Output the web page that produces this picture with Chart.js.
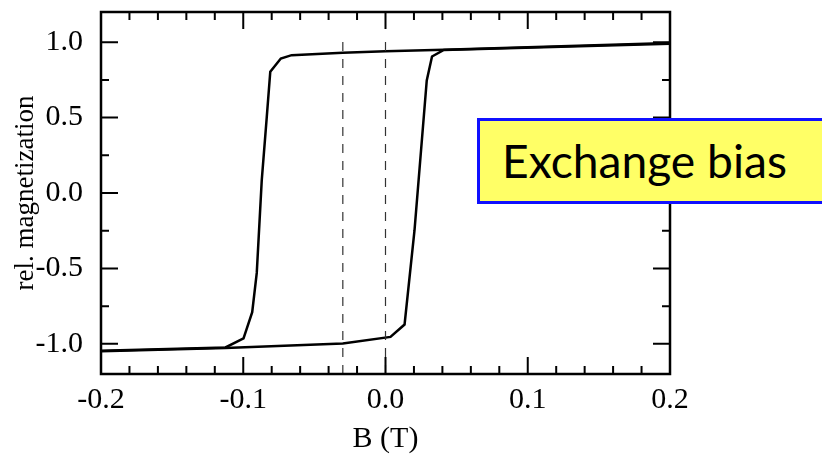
<!DOCTYPE html>
<html lang="en">
<head>
    <meta charset="UTF-8">
    <title>Exchange bias loop</title>
    <script src="https://cdn.jsdelivr.net/npm/chart.js"></script>
    <style>
        body {
            margin: 0;
            background: #fff;
            overflow: hidden;
        }
        .wrap {
            position: relative;
            width: 822px;
            height: 457px;
        }
        .note {
            position: absolute;
            left: 477px;
            top: 118px;
            width: 360px;
            height: 86px;
            box-sizing: border-box;
            border: 3px solid #1010ff;
            background: #ffff66;
        }
        .note span {
            position: absolute;
            left: 22px;
            top: 50%;
            transform-origin: left center;
            font-family: 'Lato', sans-serif;
            line-height: 1;
            color: #000;
            white-space: nowrap;
        }
    </style>
</head>
<body>
    <div class="wrap">
        <canvas id="loopChart" width="822" height="457"></canvas>
        <div class="note"><span id="noteText">Exchange bias</span></div>
    </div>

    <script>
        // field sweep from +0.2 T down to -0.2 T
        const fieldDown = [0.2, 0.041, 0.0, -0.03, -0.066, -0.0736, -0.081, -0.0835, -0.087, -0.0905, -0.0937, -0.0998, -0.1125, -0.2];
        const magDown = [0.995, 0.95, 0.94, 0.93, 0.914, 0.892, 0.804, 0.5, 0.084, -0.53, -0.79, -0.964, -1.024, -1.046];
        // field sweep back from -0.2 T up to +0.2 T
        const fieldUp = [-0.2, -0.1125, -0.03, 0.0035, 0.0134, 0.0204, 0.029, 0.0327, 0.041, 0.2];
        const magUp = [-1.05, -1.028, -0.997, -0.954, -0.872, -0.247, 0.746, 0.905, 0.948, 0.99];

        // dashed markers: loop centre and zero field
        const markerFields = [-0.03, 0.0];

        const xTicks = [-0.2, -0.1, 0.0, 0.1, 0.2];
        const yTicks = [-1.0, -0.5, 0.0, 0.5, 1.0];
        const xMinorTicks = [-0.18, -0.16, -0.14, -0.12, -0.08, -0.06, -0.04, -0.02, 0.02, 0.04, 0.06, 0.08, 0.12, 0.14, 0.16, 0.18];
        const yMinorTicks = [-0.75, -0.25, 0.25, 0.75];

        const serif = "'Liberation Serif', 'Times New Roman', serif";

        const toPoints = (xs, ys) => xs.map((x, i) => ({ x: x, y: ys[i] }));

        const markerSets = markerFields.map(b => ({
            data: [{ x: b, y: -1.2 }, { x: b, y: 1.02 }],
            showLine: true,
            borderColor: '#333',
            borderWidth: 1.2,
            borderDash: [9, 8],
            pointRadius: 0
        }));

        // box with inward major/minor ticks on all four sides
        const frameTicks = {
            id: 'frameTicks',
            afterDatasetsDraw(chart) {
                const { ctx, chartArea: a, scales: { x, y } } = chart;
                ctx.save();
                ctx.strokeStyle = '#000';
                ctx.lineWidth = 2;
                ctx.beginPath();
                const xMark = (v, len) => {
                    const px = x.getPixelForValue(v);
                    ctx.moveTo(px, a.bottom); ctx.lineTo(px, a.bottom - len);
                    ctx.moveTo(px, a.top); ctx.lineTo(px, a.top + len);
                };
                const yMark = (v, len) => {
                    const py = y.getPixelForValue(v);
                    ctx.moveTo(a.left, py); ctx.lineTo(a.left + len, py);
                    ctx.moveTo(a.right, py); ctx.lineTo(a.right - len, py);
                };
                xTicks.forEach(v => xMark(v, 17));
                xMinorTicks.forEach(v => xMark(v, 8));
                yTicks.forEach(v => yMark(v, 17));
                yMinorTicks.forEach(v => yMark(v, 8));
                ctx.stroke();
                ctx.lineWidth = 2.5;
                ctx.strokeRect(a.left, a.top, a.right - a.left, a.bottom - a.top);
                ctx.restore();
            }
        };

        new Chart(document.getElementById('loopChart'), {
            type: 'scatter',
            data: {
                datasets: [
                    ...markerSets,
                    {
                        data: toPoints(fieldDown, magDown),
                        showLine: true,
                        borderColor: '#000',
                        borderWidth: 2.5,
                        pointRadius: 0
                    },
                    {
                        data: toPoints(fieldUp, magUp),
                        showLine: true,
                        borderColor: '#000',
                        borderWidth: 2.5,
                        pointRadius: 0
                    }
                ]
            },
            options: {
                responsive: false,
                animation: false,
                layout: { padding: { top: 12, right: 152, left: 0, bottom: 0 } },
                plugins: {
                    legend: { display: false },
                    tooltip: { enabled: false }
                },
                scales: {
                    x: {
                        type: 'linear',
                        min: -0.2,
                        max: 0.2,
                        afterBuildTicks: s => { s.ticks = xTicks.map(v => ({ value: v })); },
                        afterFit: s => { s.height = 83; s.paddingLeft = 0; s.paddingRight = 0; },
                        grid: { display: false },
                        border: { display: false },
                        ticks: {
                            padding: 0,
                            color: '#000',
                            font: { family: serif, size: 30 },
                            callback: v => v.toFixed(1)
                        },
                        title: {
                            display: true,
                            text: 'B (T)',
                            color: '#000',
                            font: { family: serif, size: 30 },
                            padding: { top: 0, bottom: 0 }
                        }
                    },
                    y: {
                        min: -1.2,
                        max: 1.2,
                        afterBuildTicks: s => { s.ticks = yTicks.map(v => ({ value: v })); },
                        afterFit: s => { s.width = 101; s.paddingTop = 0; s.paddingBottom = 0; },
                        grid: { display: false },
                        border: { display: false },
                        ticks: {
                            padding: 10,
                            color: '#000',
                            font: { family: serif, size: 30 },
                            callback: v => v.toFixed(1)
                        },
                        title: {
                            display: true,
                            text: 'rel. magnetization',
                            color: '#000',
                            font: { family: serif, size: 27 },
                            padding: { top: 10, bottom: 0 }
                        }
                    }
                }
            },
            plugins: [frameTicks]
        });

        // fit the label text to its width in the box
        const note = document.getElementById('noteText');
        note.style.fontSize = '46px';
        const w = note.getBoundingClientRect().width;
        note.style.transform = 'translateY(-50%) scaleX(' + (285 / w).toFixed(3) + ')';
    </script>
</body>
</html>
